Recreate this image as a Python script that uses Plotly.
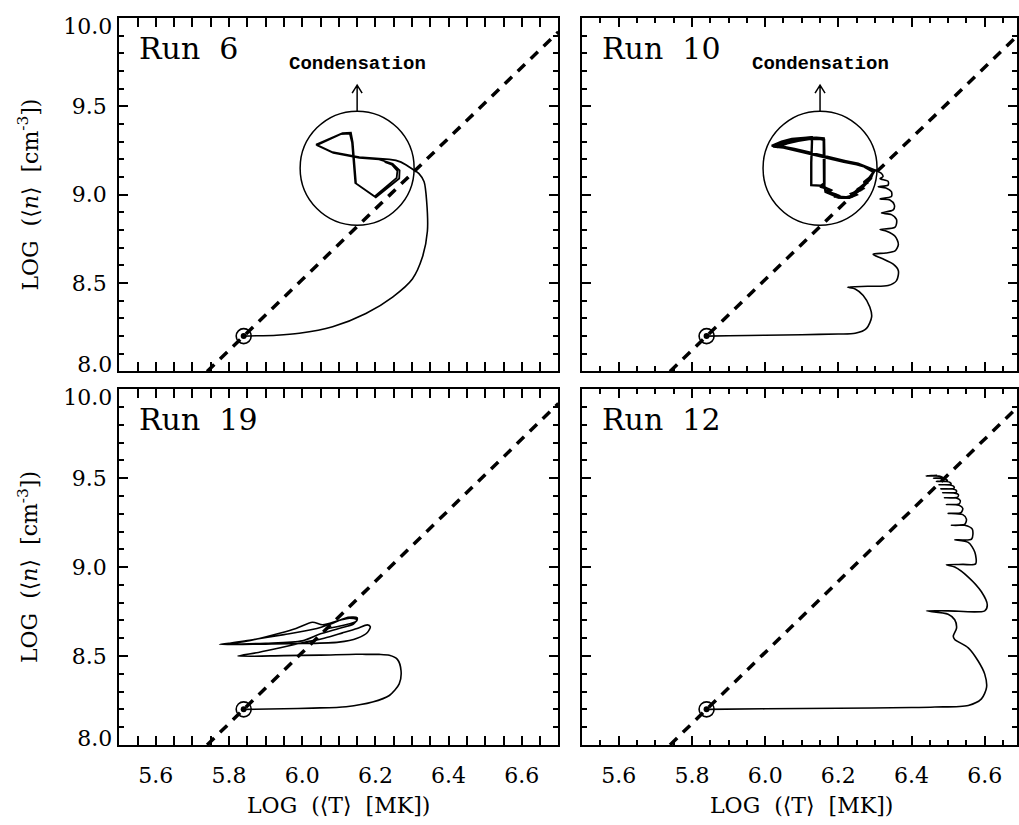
import plotly.graph_objects as go

# ---- data: log T [MK] vs log n [cm^-3] trajectories ----
start_T = [5.84]
start_n = [8.20]

# n ~ T^2 reference line through the starting point
ref_T = [5.74, 6.70]
ref_n = [8.00, 9.92]

# y tick labels: inner ones centred on their ticks, edge ones nudged inside the frame
y_inner_ticks = [8.5, 9.0, 9.5]
y_top_tick = [10.0]
y_bottom_tick = [8.0]

# Run 6
run6_rise_T = [5.840, 5.856, 5.930, 5.992, 6.083, 6.174, 6.247, 6.301, 6.328, 6.342, 6.340, 6.333, 6.319, 6.306]
run6_rise_n = [8.200, 8.201, 8.205, 8.216, 8.253, 8.328, 8.421, 8.523, 8.644, 8.793, 8.961, 9.073, 9.119, 9.138]
run6_loop_T = [6.306, 6.295, 6.283, 6.270, 6.256, 6.238, 6.219, 6.156, 6.083, 6.038, 6.110, 6.133, 6.138, 6.142,
               6.147, 6.201, 6.265, 6.266, 6.247, 6.210,
               6.156, 6.085, 6.040, 6.105, 6.130, 6.136, 6.140, 6.145, 6.198, 6.258, 6.260, 6.245, 6.225]
run6_loop_n = [9.138, 9.155, 9.169, 9.184, 9.194, 9.200, 9.203, 9.212, 9.240, 9.283, 9.348, 9.350, 9.296, 9.203,
               9.063, 8.985, 9.091, 9.138, 9.175, 9.199,
               9.208, 9.236, 9.280, 9.342, 9.345, 9.295, 9.205, 9.066, 8.990, 9.095, 9.135, 9.170, 9.185]

# Run 10
run10_rise_T = [5.840, 5.900, 6.000, 6.100, 6.200, 6.246, 6.277, 6.291, 6.286, 6.268, 6.246, 6.225,
                6.280, 6.336, 6.359, 6.364, 6.350, 6.318, 6.295,
                6.330, 6.355, 6.364, 6.355, 6.332, 6.314,
                6.355, 6.359, 6.345, 6.318,
                6.350, 6.353, 6.341, 6.314,
                6.345, 6.345, 6.330, 6.309,
                6.336, 6.336, 6.314,
                6.322, 6.318, 6.300]
run10_rise_n = [8.200, 8.202, 8.205, 8.208, 8.212, 8.216, 8.244, 8.309, 8.365, 8.430, 8.467, 8.477,
                8.482, 8.486, 8.514, 8.570, 8.607, 8.640, 8.663,
                8.670, 8.682, 8.719, 8.765, 8.793, 8.803,
                8.816, 8.859, 8.887, 8.896,
                8.914, 8.942, 8.970, 8.976,
                8.989, 9.017, 9.038, 9.045,
                9.054, 9.075, 9.091,
                9.102, 9.120, 9.138]
run10_loop_T = [6.300, 6.275, 6.254, 6.220, 6.191, 6.150, 6.118, 6.080, 6.055, 6.018, 6.045, 6.073, 6.100, 6.127,
                6.128, 6.126, 6.126, 6.162, 6.165, 6.200, 6.227, 6.254, 6.273, 6.290, 6.300,
                6.272, 6.250, 6.215, 6.185, 6.145, 6.112, 6.075, 6.050, 6.022, 6.050, 6.080, 6.110, 6.140, 6.160,
                6.162, 6.162, 6.150, 6.175, 6.168, 6.195, 6.188, 6.220, 6.240, 6.235, 6.262, 6.255, 6.278, 6.272, 6.290, 6.298,
                6.268, 6.245, 6.210, 6.180, 6.140, 6.108, 6.070, 6.040, 6.028, 6.055, 6.085, 6.115, 6.145, 6.160,
                6.161, 6.161, 6.155, 6.180, 6.172, 6.205, 6.198, 6.230, 6.250, 6.244, 6.268, 6.262, 6.283, 6.292, 6.296,
                6.265, 6.240, 6.205, 6.170, 6.135, 6.100, 6.065, 6.035, 6.032, 6.060, 6.090, 6.120, 6.148, 6.161,
                6.162, 6.161, 6.152, 6.178, 6.170, 6.200, 6.194, 6.225, 6.246, 6.240, 6.265, 6.270, 6.288, 6.294]
run10_loop_n = [9.138, 9.160, 9.175, 9.190, 9.203, 9.222, 9.240, 9.258, 9.268, 9.276, 9.300, 9.315, 9.322, 9.325,
                9.300, 9.180, 9.054, 9.050, 9.015, 8.985, 8.985, 9.017, 9.063, 9.110, 9.138,
                9.158, 9.172, 9.186, 9.200, 9.220, 9.238, 9.255, 9.266, 9.272, 9.296, 9.312, 9.320, 9.322, 9.318,
                9.200, 9.060, 9.045, 9.030, 9.018, 9.000, 8.990, 8.985, 8.995, 9.005, 9.025, 9.035, 9.065, 9.075, 9.105, 9.132,
                9.162, 9.176, 9.190, 9.205, 9.225, 9.243, 9.260, 9.270, 9.270, 9.292, 9.308, 9.316, 9.318, 9.312,
                9.200, 9.062, 9.048, 9.025, 9.012, 8.992, 8.982, 8.982, 9.000, 9.010, 9.035, 9.045, 9.080, 9.110, 9.128,
                9.165, 9.180, 9.194, 9.208, 9.228, 9.246, 9.262, 9.272, 9.268, 9.290, 9.305, 9.314, 9.316, 9.310,
                9.200, 9.064, 9.050, 9.028, 9.015, 8.996, 8.986, 8.984, 8.998, 9.008, 9.030, 9.050, 9.090, 9.120]

# Run 19
run19_T = [5.840, 5.950, 6.029, 6.120, 6.192, 6.238, 6.265, 6.270, 6.260, 6.238, 6.210, 6.174, 6.147, 6.050, 5.950, 5.824,
           5.880, 5.940, 6.000, 6.060, 6.110, 6.150, 6.178, 6.186, 6.178, 6.150, 6.100, 6.000, 5.900, 5.774,
           5.847, 5.938, 5.983, 6.028, 6.056, 6.100, 6.129, 6.149, 6.140, 6.100, 6.050, 6.000, 5.900, 5.790,
           5.860, 5.950, 6.030, 6.080, 6.125, 6.150, 6.148, 6.110, 6.070]
run19_n = [8.200, 8.203, 8.207, 8.215, 8.241, 8.278, 8.343, 8.417, 8.481, 8.504, 8.509, 8.509, 8.510, 8.505, 8.502, 8.500,
           8.520, 8.546, 8.574, 8.600, 8.630, 8.655, 8.675, 8.665, 8.632, 8.600, 8.578, 8.570, 8.567, 8.565,
           8.583, 8.628, 8.655, 8.690, 8.676, 8.700, 8.713, 8.704, 8.680, 8.655, 8.625, 8.585, 8.572, 8.568,
           8.590, 8.620, 8.650, 8.682, 8.718, 8.715, 8.695, 8.672, 8.655]

# Run 12
run12_T = [5.840, 6.000, 6.200, 6.400, 6.464, 6.555, 6.591, 6.605, 6.600, 6.582, 6.555, 6.518, 6.514, 6.523, 6.518, 6.500, 6.441,
           6.500, 6.600, 6.607, 6.591, 6.555, 6.518, 6.495,
           6.540, 6.575, 6.573, 6.555, 6.518,
           6.564, 6.566, 6.545, 6.509,
           6.545, 6.550, 6.540, 6.500,
           6.535, 6.540, 6.530, 6.495,
           6.530, 6.533, 6.522, 6.490,
           6.526, 6.528, 6.518, 6.485,
           6.522, 6.522, 6.512, 6.480,
           6.516, 6.515, 6.505, 6.475,
           6.508, 6.505, 6.495, 6.468,
           6.498, 6.494, 6.484, 6.460,
           6.486, 6.480, 6.465, 6.440, 6.460, 6.470]
run12_n = [8.200, 8.203, 8.206, 8.210, 8.213, 8.222, 8.259, 8.324, 8.398, 8.472, 8.546, 8.593, 8.611, 8.657, 8.704, 8.735, 8.754,
           8.754, 8.754, 8.787, 8.861, 8.944, 9.000, 9.013,
           9.015, 9.018, 9.083, 9.139, 9.154,
           9.157, 9.213, 9.235, 9.235,
           9.240, 9.270, 9.295, 9.302,
           9.306, 9.330, 9.348, 9.352,
           9.356, 9.375, 9.388, 9.390,
           9.393, 9.408, 9.416, 9.418,
           9.421, 9.432, 9.439, 9.440,
           9.443, 9.455, 9.462, 9.463,
           9.466, 9.476, 9.481, 9.482,
           9.485, 9.494, 9.499, 9.500,
           9.503, 9.510, 9.513, 9.513, 9.515, 9.516]

# (label, smooth part, polyline part, polyline width, condensation marker)
panels = [
    ("Run  6", (run6_rise_T, run6_rise_n), (run6_loop_T, run6_loop_n), 1.8, True),
    ("Run  10", (run10_rise_T, run10_rise_n), (run10_loop_T, run10_loop_n), 2.4, True),
    ("Run  19", (run19_T, run19_n), None, 0, False),
    ("Run  12", (run12_T, run12_n), None, 0, False),
]

W, H = 1019, 825
SERIF = "DejaVu Serif"
TICKFONT = dict(family=SERIF, size=22, color="black")

# panel placement in paper fractions
x_dom = [(119.5 / W, 559.5 / W), (583.3 / W, 1.0)]
y_dom = [(1 - 372 / H, 1 - 14 / H), (1 - 750 / H, 1 - 390 / H)]
x_ranges = [[5.5, 6.7], [5.5, 5.5 + (W - 583.3) / 366.7]]

fig = go.Figure()
shapes, annotations = [], []
extra_axis = 5

for i, (label, smooth, poly, poly_w, marked) in enumerate(panels):
    row, col = divmod(i, 2)
    k = "" if i == 0 else str(i + 1)
    xa, ya = "x" + k, "y" + k

    fig.add_trace(go.Scatter(x=ref_T, y=ref_n, mode="lines", xaxis=xa, yaxis=ya,
                             line=dict(color="black", width=3.5, dash="10px,8px"),
                             hoverinfo="skip", showlegend=False))
    fig.add_trace(go.Scatter(x=smooth[0], y=smooth[1], mode="lines", xaxis=xa, yaxis=ya,
                             line=dict(color="black", width=1.6, shape="spline", smoothing=0.8),
                             showlegend=False))
    if poly is not None:
        fig.add_trace(go.Scatter(x=poly[0], y=poly[1], mode="lines", xaxis=xa, yaxis=ya,
                                 line=dict(color="black", width=poly_w), showlegend=False))
    fig.add_trace(go.Scatter(x=start_T, y=start_n, mode="markers", xaxis=xa, yaxis=ya,
                             marker=dict(symbol="circle-open", size=15, color="black",
                                         line=dict(width=1.6, color="black")),
                             showlegend=False))
    fig.add_trace(go.Scatter(x=start_T, y=start_n, mode="markers", xaxis=xa, yaxis=ya,
                             marker=dict(symbol="circle", size=6, color="black"),
                             showlegend=False))

    common = dict(showline=True, linecolor="black", linewidth=2, mirror="allticks",
                  ticks="inside", ticklen=9, tickwidth=1.5, tickcolor="black",
                  showgrid=False, zeroline=False, tickformat=".1f", tickfont=TICKFONT)
    fig.layout["xaxis" + k] = dict(
        common, domain=x_dom[col], range=x_ranges[col], anchor=ya,
        tick0=5.6, dtick=0.2, showticklabels=(row == 1), ticklabelstandoff=10,
        minor=dict(ticks="inside", ticklen=5, tickwidth=1.5, tickcolor="black",
                   tick0=5.5, dtick=0.05, showgrid=False))
    fig.layout["yaxis" + k] = dict(
        common, domain=y_dom[row], range=[8.0, 10.0], anchor=xa,
        tickmode="array", tickvals=y_inner_ticks, showticklabels=(col == 0), ticklabelstandoff=6,
        minor=dict(ticks="inside", ticklen=5, tickwidth=1.5, tickcolor="black",
                   tick0=8.0, dtick=0.1, showgrid=False))

    if col == 0:
        # edge labels nudged inside the frame so stacked panels do not collide
        for vals, shift in ((y_top_tick, 8), (y_bottom_tick, -7)):
            name = "y" + str(extra_axis)
            fig.layout["yaxis" + str(extra_axis)] = dict(
                overlaying=ya, anchor=xa, side="left", range=[8.0, 10.0],
                tickmode="array", tickvals=vals, tickformat=".1f",
                ticks="inside", ticklen=9, tickwidth=1.5, tickcolor="black",
                ticklabelshift=shift, ticklabelstandoff=6, tickfont=TICKFONT,
                showline=False, showgrid=False, zeroline=False)
            fig.add_trace(go.Scatter(x=[None], y=[None], xaxis=xa, yaxis=name,
                                     mode="lines", showlegend=False, hoverinfo="skip"))
            extra_axis += 1

    annotations.append(dict(text=label, xref=xa + " domain", yref=ya + " domain",
                            x=0.04, y=0.969, xanchor="left", yanchor="top", showarrow=False,
                            font=dict(family=SERIF, size=30, color="black")))

    if marked:
        # highlight of the condensation cycle
        shapes.append(dict(type="circle", xref=xa, yref=ya, xsizemode="pixel", ysizemode="pixel",
                           xanchor=6.15, yanchor=9.15, x0=-57, x1=57, y0=-57, y1=57,
                           line=dict(color="black", width=1.5)))
        shapes.append(dict(type="path", xref=xa, yref=ya, xsizemode="pixel", ysizemode="pixel",
                           xanchor=6.15, yanchor=9.15,
                           path="M0,57 L0,83 M-5,75 L0,83 L5,75",
                           line=dict(color="black", width=1.5)))
        annotations.append(dict(text="<b>Condensation</b>", xref=xa, yref=ya, x=6.15, y=9.15,
                                yshift=104, xanchor="center", yanchor="middle", showarrow=False,
                                font=dict(family="Liberation Mono", size=19, color="black")))

# axis titles
for r in range(2):
    ymid = (y_dom[r][0] + y_dom[r][1]) / 2
    annotations.append(dict(text="LOG  (\u27e8<i>n</i>\u27e9  [cm<sup>-3</sup>])", xref="paper", yref="paper",
                            x=28 / W, y=ymid, textangle=-90, showarrow=False,
                            xanchor="center", yanchor="middle",
                            font=dict(family=SERIF, size=22, color="black")))
for c in range(2):
    xmid = (119.5 + 559.5) / 2 / W if c == 0 else (583.3 + 1023.3) / 2 / W
    annotations.append(dict(text="LOG  (\u27e8T\u27e9  [MK])", xref="paper", yref="paper",
                            x=xmid, y=1 - 811 / H, showarrow=False,
                            xanchor="center", yanchor="middle",
                            font=dict(family=SERIF, size=22, color="black")))

fig.update_layout(width=W, height=H, margin=dict(l=0, r=0, t=0, b=0),
                  paper_bgcolor="white", plot_bgcolor="white",
                  shapes=shapes, annotations=annotations, showlegend=False)

fig.write_html("out.html")
